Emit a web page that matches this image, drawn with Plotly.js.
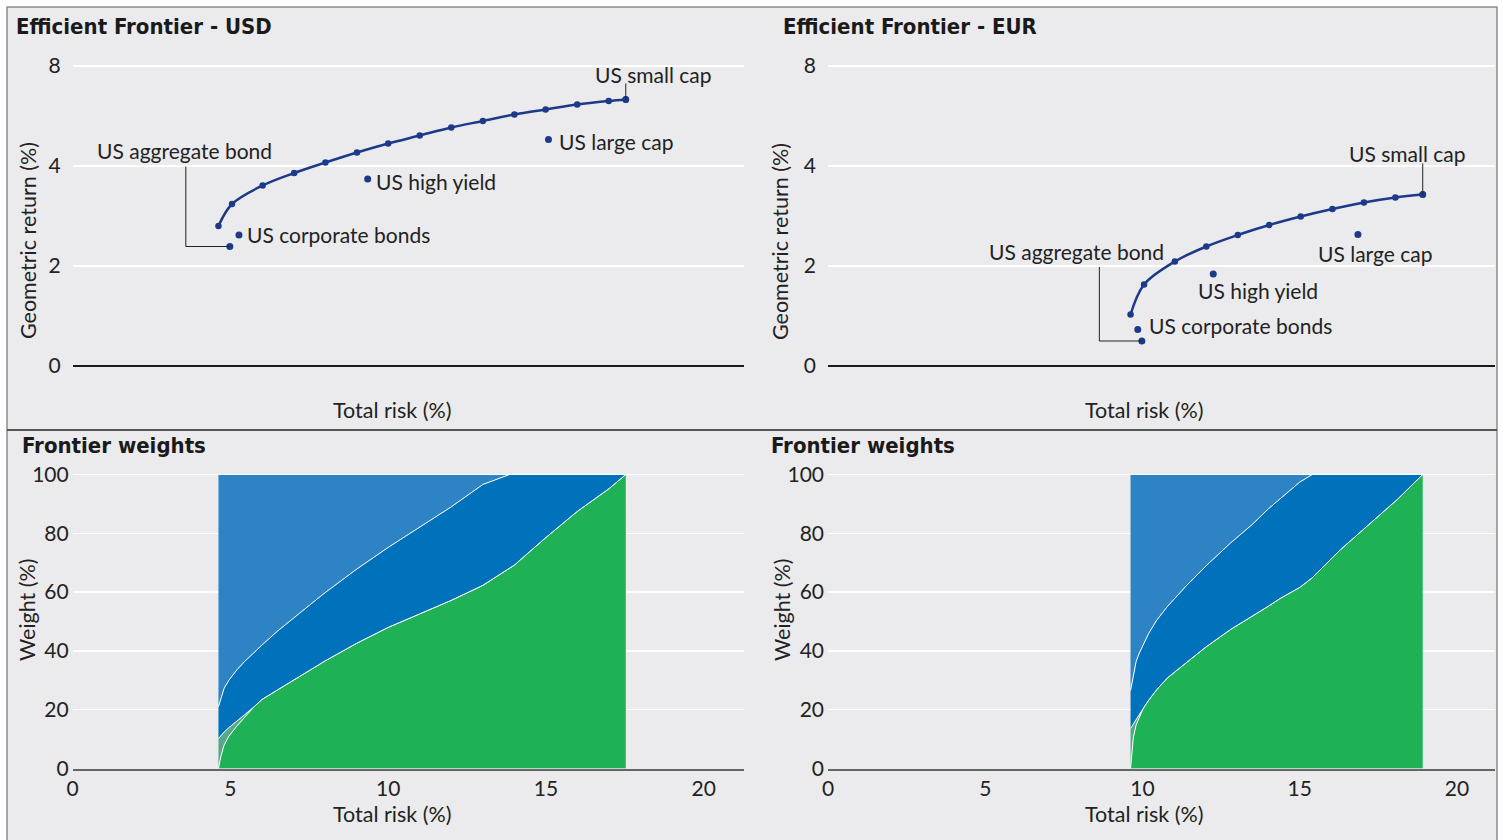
<!DOCTYPE html>
<html>
<head>
<meta charset="utf-8">
<script src="https://cdn.plot.ly/plotly-3.0.1.min.js"></script>
<style>
  html, body { margin: 0; padding: 0; background: #ffffff; }
  #chart { width: 1503px; height: 840px; }
</style>
</head>
<body>
<div id="chart"></div>
<script>
// ---- Efficient frontier (USD) ----
const usdFrontierRisk   = [4.62, 5.05, 6.02, 7.02, 8.01, 9.01, 10.0, 11.0, 12.0, 13.0, 14.0, 14.99, 15.99, 16.99, 17.53];
const usdFrontierReturn = [2.80, 3.24, 3.61, 3.86, 4.07, 4.27, 4.45, 4.61, 4.77, 4.90, 5.03, 5.13, 5.23, 5.30, 5.33];

// ---- Efficient frontier (EUR) ----
const eurFrontierRisk   = [9.62, 10.05, 11.03, 12.03, 13.03, 14.03, 15.03, 16.04, 17.04, 18.04, 18.91];
const eurFrontierReturn = [1.03, 1.63, 2.09, 2.39, 2.62, 2.82, 2.99, 3.14, 3.27, 3.37, 3.43];

// ---- Single assets ----
const assetNames = ["US small cap", "US large cap", "US high yield", "US corporate bonds", "US aggregate bond"];
const usdAssetRisk   = [17.53, 15.08, 9.35, 5.27, 4.98];
const usdAssetReturn = [5.33, 4.53, 3.74, 2.62, 2.39];
const eurAssetRisk   = [18.91, 16.85, 12.25, 9.85, 9.98];
const eurAssetReturn = [3.43, 2.63, 1.84, 0.73, 0.50];

// ---- Frontier weights (USD), % of portfolio ----
const usdWeightRisk = [4.62, 4.7, 4.8, 4.95, 5.2, 5.45, 5.75, 6.0, 6.5, 7.0, 7.5, 8.0, 9.0, 10.0, 11.0, 12.0, 13.0, 13.85, 14.0, 15.0, 16.0, 17.0, 17.53];
const usdSmallCap  = [0, 4.3, 8.0, 11.0, 14.4, 17.5, 21.0, 23.5, 26.8, 30.0, 33.3, 36.6, 42.6, 48.0, 52.6, 57.2, 62.3, 68.2, 69.2, 78.6, 87.5, 95.2, 100];
const usdCorporate = [10.2, 7.0, 4.4, 2.9, 1.6, 0.8, 0, 0, 0, 0, 0, 0, 0, 0, 0, 0, 0, 0, 0, 0, 0, 0, 0];
const usdHighYield = [10.8, 12.7, 14.9, 16.1, 17.5, 18.1, 18.5, 18.5, 20.0, 21.3, 22.2, 23.2, 25.2, 27.2, 29.6, 31.8, 34.3, 31.8, 30.8, 21.4, 12.5, 4.8, 0];
const usdAggregate = [79.0, 76.0, 72.7, 70.0, 66.5, 63.6, 60.5, 58.0, 53.2, 48.7, 44.5, 40.2, 32.2, 24.8, 17.8, 11.0, 3.4, 0, 0, 0, 0, 0, 0];

// ---- Frontier weights (EUR), % of portfolio ----
const eurWeightRisk = [9.62, 9.66, 9.71, 9.8, 9.9, 10.02, 10.2, 10.45, 10.8, 11.4, 12.0, 12.8, 13.5, 14.0, 14.4, 15.0, 15.4, 16.3, 17.2, 18.1, 18.91];
const eurSmallCap  = [0, 6.0, 10.7, 14.9, 17.4, 20.4, 23.3, 26.8, 30.9, 36.2, 41.2, 47.3, 51.8, 55.2, 58.0, 61.6, 64.9, 74.5, 83.0, 91.5, 100];
const eurCorporate = [13.6, 8.3, 4.6, 1.9, 1.0, 0, 0, 0, 0, 0, 0, 0, 0, 0, 0, 0, 0, 0, 0, 0, 0];
const eurHighYield = [12.9, 14.7, 16.7, 19.7, 20.9, 21.6, 22.7, 23.6, 24.3, 26.0, 27.5, 29.4, 31.3, 33.1, 34.0, 35.8, 35.1, 25.5, 17.0, 8.5, 0];
const eurAggregate = [73.5, 71.0, 68.0, 63.5, 60.7, 58.0, 54.0, 49.6, 44.8, 37.8, 31.3, 23.3, 16.9, 11.7, 8.0, 2.6, 0, 0, 0, 0, 0];

// ---- Tick labels ----
const returnTickVals = [0, 2, 4, 6];
const returnTickText = ["0", "2", "4", "8"];
const weightTicks = [0, 20, 40, 60, 80, 100];
const riskTicks = [0, 5, 10, 15, 20];

// ---- Styling ----
const W = 1503, H = 840;
const fx = p => p / W;
const fy = p => 1 - p / H;
const NAVY = "#1d3a8a";
const TEXT = "#222222";
const FONT = "Lato, 'Open Sans', sans-serif";
const TITLE_FONT = "'Liberation Sans Narrow', 'DejaVu Sans Condensed', 'Liberation Sans', sans-serif";
const COL = { small: "#1fb155", corp: "#57a78a", hy: "#0071bb", agg: "#2e83c4" };

const traces = [];

function frontierTraces(ax, ay, risk, ret, aRisk, aRet) {
  traces.push({
    x: risk, y: ret, xaxis: ax, yaxis: ay, type: "scatter", mode: "lines+markers",
    line: { color: NAVY, width: 2.5, shape: "spline", smoothing: 1 },
    marker: { color: NAVY, size: 6.5, opacity: 1 }, hoverinfo: "x+y", showlegend: false
  });
  traces.push({
    x: aRisk, y: aRet, xaxis: ax, yaxis: ay, type: "scatter", mode: "markers",
    marker: { color: NAVY, size: 7, opacity: 1, line: { width: 0 } }, text: assetNames,
    hoverinfo: "text+x+y", showlegend: false
  });
}
frontierTraces("x", "y", usdFrontierRisk, usdFrontierReturn, usdAssetRisk, usdAssetReturn);
frontierTraces("x2", "y2", eurFrontierRisk, eurFrontierReturn, eurAssetRisk, eurAssetReturn);

function weightTraces(ax, ay, risk, series, grp) {
  const order = [["US small cap", series[0], COL.small], ["US corporate bonds", series[1], COL.corp],
                 ["US high yield", series[2], COL.hy], ["US aggregate bond", series[3], COL.agg]];
  order.forEach(([name, vals, color]) => {
    traces.push({
      x: risk, y: vals, name: name, xaxis: ax, yaxis: ay, type: "scatter", mode: "lines",
      stackgroup: grp, fillcolor: color, line: { color: "#ffffff", width: 1 }, showlegend: false
    });
  });
}
weightTraces("x3", "y3", usdWeightRisk, [usdSmallCap, usdCorporate, usdHighYield, usdAggregate], "usd");
weightTraces("x4", "y4", eurWeightRisk, [eurSmallCap, eurCorporate, eurHighYield, eurAggregate], "eur");

const tickFont = { family: FONT, size: 21, color: TEXT };
const leftX = [fx(72.7), fx(744)], rightX = [fx(828), fx(1495)];
const topY = [fy(371), fy(46)], botY = [fy(768.5), fy(468.6)];
const leftRange = [0, (744 - 72.7) / 31.55], rightRange = [0, (1495 - 828) / 31.45];

function topX(domain, range, anchor) {
  return { domain, range, anchor, showticklabels: false, showgrid: false, zeroline: false, showline: false, ticks: "", fixedrange: true };
}
function topYAxis(anchor) {
  return { domain: topY, range: [-0.1, 6.4], anchor, tickvals: returnTickVals, ticktext: returnTickText,
           tickfont: tickFont, gridcolor: "#ffffff", gridwidth: 1.5, zeroline: true, zerolinecolor: "#1a1a1a",
           zerolinewidth: 1.2, showline: false, ticks: "", ticklabelstandoff: 11, fixedrange: true };
}
function botX(domain, range, anchor) {
  return { domain, range, anchor, tickvals: riskTicks, tickfont: tickFont, showgrid: false, zeroline: false,
           showline: true, linecolor: "#666666", linewidth: 2, ticks: "", ticklabelstandoff: 0, fixedrange: true };
}
function botYAxis(anchor) {
  return { domain: botY, range: [0, 102], anchor, tickvals: weightTicks, tickfont: tickFont, gridcolor: "#ffffff",
           gridwidth: 1.5, zeroline: false, showline: false, ticks: "", ticklabelstandoff: 3, fixedrange: true };
}

// ---- Text labels ----
const labelFont = { family: FONT, size: 21, color: TEXT };
const annotations = [];
function pointLabel(ax, ay, i, risk, ret, xanchor, xshift, yshift) {
  annotations.push({ xref: ax, yref: ay, x: risk[i], y: ret[i], text: assetNames[i], showarrow: false,
                     xanchor, yanchor: "middle", xshift, yshift, font: labelFont });
}
pointLabel("x", "y", 0, usdAssetRisk, usdAssetReturn, "center", 28, 25);
pointLabel("x", "y", 1, usdAssetRisk, usdAssetReturn, "left", 9, -2);
pointLabel("x", "y", 2, usdAssetRisk, usdAssetReturn, "left", 6, -2);
pointLabel("x", "y", 3, usdAssetRisk, usdAssetReturn, "left", 6, 1);
pointLabel("x", "y", 4, usdAssetRisk, usdAssetReturn, "center", -45, 96);
pointLabel("x2", "y2", 0, eurAssetRisk, eurAssetReturn, "center", -15, 41);
pointLabel("x2", "y2", 1, eurAssetRisk, eurAssetReturn, "center", 17, -19);
pointLabel("x2", "y2", 2, eurAssetRisk, eurAssetReturn, "center", 45, -16);
pointLabel("x2", "y2", 3, eurAssetRisk, eurAssetReturn, "left", 9, 4);
pointLabel("x2", "y2", 4, eurAssetRisk, eurAssetReturn, "center", -65, 90);

function paperText(text, x, y, font, opts) {
  annotations.push(Object.assign({ xref: "paper", yref: "paper", x: fx(x), y: fy(y), text, showarrow: false,
                                   xanchor: "center", yanchor: "middle", font }, opts || {}));
}
const titleFont = { family: TITLE_FONT, size: 22, color: "#1a1a1a", weight: 700 };
const axisFont = { family: FONT, size: 21.5, color: TEXT };
paperText("Efficient Frontier - USD", 14, 27, titleFont, { xanchor: "left" });
paperText("Efficient Frontier - EUR", 781, 27, titleFont, { xanchor: "left" });
paperText("Frontier weights", 20, 445, titleFont, { xanchor: "left" });
paperText("Frontier weights", 769, 445, titleFont, { xanchor: "left" });
paperText("Geometric return (%)", 28, 241, axisFont, { textangle: -90 });
paperText("Geometric return (%)", 780, 241, axisFont, { textangle: -90 });
paperText("Weight (%)", 27, 610, axisFont, { textangle: -90 });
paperText("Weight (%)", 782, 610, axisFont, { textangle: -90 });
paperText("Total risk (%)", 392, 410, axisFont);
paperText("Total risk (%)", 1144, 410, axisFont);
paperText("Total risk (%)", 392, 814, axisFont);
paperText("Total risk (%)", 1144, 814, axisFont);

// ---- Frame, divider and leader lines ----
const shapes = [
  { type: "rect", xref: "paper", yref: "paper", x0: fx(7), x1: fx(1497), y0: -0.01, y1: fy(7),
    fillcolor: "#ebebed", line: { color: "#8c8c8c", width: 1.5 }, layer: "below" },
  { type: "line", xref: "paper", yref: "paper", x0: fx(7), x1: fx(1497), y0: fy(430), y1: fy(430),
    line: { color: "#555555", width: 2 } }
];
function elbow(ax, ay, px, py, dxPx, dyPx, pxPerX) {
  const ex = px + dxPx / pxPerX, ey = py + dyPx / 50;
  shapes.push({ type: "path", xref: ax, yref: ay, path: `M ${ex} ${ey} L ${ex} ${py} L ${px} ${py}`,
                line: { color: "#222222", width: 1 } });
}
function riser(ax, ay, px, py, dyPx) {
  shapes.push({ type: "line", xref: ax, yref: ay, x0: px, x1: px, y0: py, y1: py + dyPx / 50,
                line: { color: "#222222", width: 1 } });
}
elbow("x", "y", usdAssetRisk[4], usdAssetReturn[4], -44, 80, 31.55);
riser("x", "y", usdAssetRisk[0], usdAssetReturn[0], 16);
elbow("x2", "y2", eurAssetRisk[4], eurAssetReturn[4], -42.5, 74, 31.45);
riser("x2", "y2", eurAssetRisk[0], eurAssetReturn[0], 31);

const layout = {
  width: W, height: H, margin: { l: 0, r: 0, t: 0, b: 0 },
  paper_bgcolor: "#ffffff", plot_bgcolor: "rgba(0,0,0,0)", showlegend: false,
  font: { family: FONT, color: TEXT },
  xaxis: topX(leftX, leftRange, "y"), yaxis: topYAxis("x"),
  xaxis2: topX(rightX, rightRange, "y2"), yaxis2: topYAxis("x2"),
  xaxis3: botX(leftX, leftRange, "y3"), yaxis3: botYAxis("x3"),
  xaxis4: botX(rightX, rightRange, "y4"), yaxis4: botYAxis("x4"),
  annotations, shapes
};

Plotly.newPlot("chart", traces, layout, { displayModeBar: false, staticPlot: true });
</script>
</body>
</html>
